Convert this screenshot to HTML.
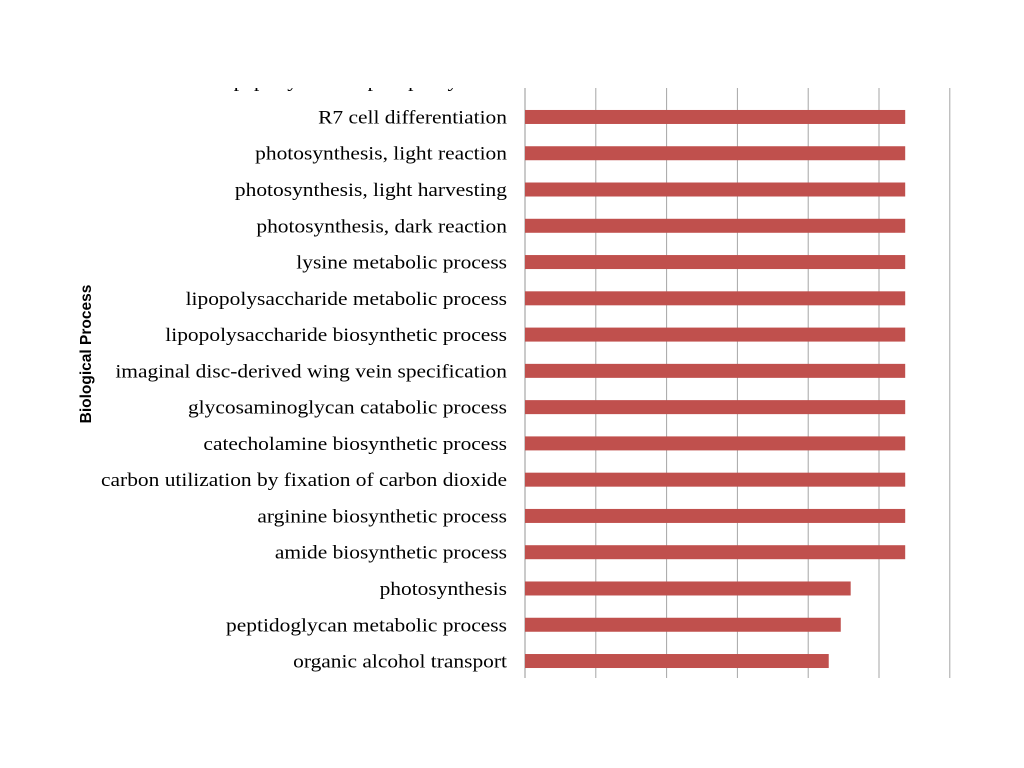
<!DOCTYPE html>
<html><head><meta charset="utf-8"><style>
html,body{margin:0;padding:0;background:#fff;}
svg{display:block;}
</style></head><body>
<svg id="chart" width="1024" height="768" xmlns="http://www.w3.org/2000/svg">
<defs><clipPath id="plotclip"><rect x="0" y="88" width="1024" height="600"/></clipPath></defs>
<g id="grid"></g>
<g id="bars" clip-path="url(#plotclip)"></g>
<g id="labels" clip-path="url(#plotclip)"></g>
<text transform="translate(91,354) rotate(-90)" text-anchor="middle" font-family="Liberation Sans, sans-serif" font-weight="bold" font-size="15.5">Biological Process</text>
</svg>
<script>
const categories = ["peptidyl-serine phosphorylation","R7 cell differentiation","photosynthesis, light reaction","photosynthesis, light harvesting","photosynthesis, dark reaction","lysine metabolic process","lipopolysaccharide metabolic process","lipopolysaccharide biosynthetic process","imaginal disc-derived wing vein specification","glycosaminoglycan catabolic process","catecholamine biosynthetic process","carbon utilization by fixation of carbon dioxide","arginine biosynthetic process","amide biosynthetic process","photosynthesis","peptidoglycan metabolic process","organic alcohol transport"];
const values = [5.37,5.37,5.37,5.37,5.37,5.37,5.37,5.37,5.37,5.37,5.37,5.37,5.37,5.37,4.6,4.46,4.29];
const ticks = [0,1,2,3,4,5,6];
const NS="http://www.w3.org/2000/svg";
const x0=525, unit=70.8, plotTop=88, plotBottom=678;
const xs=v=>x0+v*unit;
const rowY=i=>80.7+i*36.27;
const grid=document.getElementById('grid'), barsG=document.getElementById('bars'), labelsG=document.getElementById('labels');
ticks.forEach(t=>{
  const l=document.createElementNS(NS,'line');
  
  
  l.setAttribute('x1',xs(t));l.setAttribute('x2',xs(t));
  l.setAttribute('y1',plotTop);l.setAttribute('y2',plotBottom);
  l.setAttribute('stroke',t===0?'#b8b8b8':'#a6a6a6');l.setAttribute('stroke-width',t===0?1.5:1);
  grid.appendChild(l);
});
categories.forEach((c,i)=>{
  const y=rowY(i);
  const r=document.createElementNS(NS,'rect');
  
  
  r.setAttribute('x',xs(0));r.setAttribute('y',y-7);
  r.setAttribute('width',xs(values[i])-xs(0));r.setAttribute('height',14);
  r.setAttribute('fill','#c0504d');
  barsG.appendChild(r);
  const t=document.createElementNS(NS,'text');
  
  
  t.setAttribute('transform','translate(507,'+(y+6.5)+') scale(1.1,1)');
  t.setAttribute('text-anchor','end');
  t.setAttribute('font-family','Liberation Serif, serif');
  t.setAttribute('font-size','19.5');
  t.setAttribute('fill','#000');
  t.textContent=c;
  labelsG.appendChild(t);
});
</script>
</body></html>
